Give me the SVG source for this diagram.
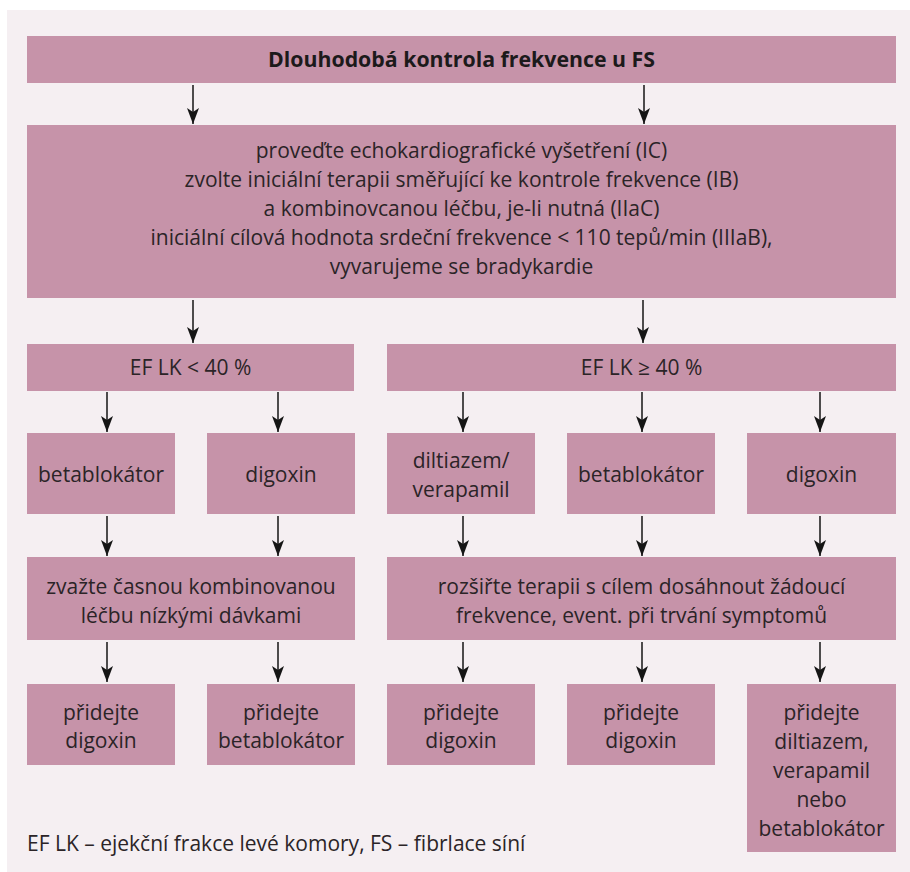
<svg xmlns="http://www.w3.org/2000/svg" width="910" height="872" viewBox="0 0 910 872">
<style>
.bx{fill:#c693a9}
.t{font-family:"Open Sans","Noto Sans",sans-serif;font-size:21px;fill:#2b2427;text-anchor:middle}
.tt{font-family:"Open Sans","Noto Sans",sans-serif;font-size:21.3px;font-weight:700;fill:#1c1a1b;text-anchor:middle}
.fn{font-family:"Open Sans","Noto Sans",sans-serif;font-size:21px;fill:#2b2427}
.ar{stroke:#151515;stroke-width:1.5;fill:none;marker-end:url(#ah)}
</style>
<defs>
<marker id="ah" viewBox="0 -6 16 12" refX="16" refY="0" markerWidth="16" markerHeight="12" markerUnits="userSpaceOnUse" orient="auto">
<path d="M0,-6 L16,0 L0,6 L4,0 Z" fill="#151515"/>
</marker>
</defs>
<rect x="0" y="0" width="910" height="872" fill="#ffffff"/>
<rect x="7" y="10" width="903" height="862" fill="#f5eff2"/>

<g id="title">
<rect class="bx" x="27" y="36" width="869" height="47"/>
<text class="tt" x="461.5" y="67">Dlouhodobá kontrola frekvence u FS</text>
</g>
<g id="initial">
<rect class="bx" x="27" y="125" width="869" height="173"/>
<text class="t" x="461.5" y="158">proveďte echokardiografické vyšetření (IC)</text>
<text class="t" x="461.5" y="187">zvolte iniciální terapii směřující ke kontrole frekvence (IB)</text>
<text class="t" x="461.5" y="216">a kombinovcanou léčbu, je-li nutná (IIaC)</text>
<text class="t" x="461.5" y="245">iniciální cílová hodnota srdeční frekvence &lt; 110 tepů/min (IIIaB),</text>
<text class="t" x="461.5" y="274">vyvarujeme se bradykardie</text>
</g>
<g id="ef-low">
<rect class="bx" x="27" y="344" width="327" height="47"/>
<text class="t" x="190.5" y="375">EF LK &lt; 40 %</text>
</g>
<g id="ef-high">
<rect class="bx" x="387" y="344" width="509" height="47"/>
<text class="t" x="641.5" y="375">EF LK ≥ 40 %</text>
</g>
<g id="l-beta">
<rect class="bx" x="27" y="433" width="148" height="81"/>
<text class="t" x="101" y="482">betablokátor</text>
</g>
<g id="l-digoxin">
<rect class="bx" x="207" y="433" width="148" height="81"/>
<text class="t" x="281" y="482">digoxin</text>
</g>
<g id="r-dilt">
<rect class="bx" x="387" y="433" width="148" height="81"/>
<text class="t" x="461" y="468">diltiazem/</text>
<text class="t" x="461" y="497">verapamil</text>
</g>
<g id="r-beta">
<rect class="bx" x="567" y="433" width="148" height="81"/>
<text class="t" x="641" y="482">betablokátor</text>
</g>
<g id="r-digoxin">
<rect class="bx" x="747" y="433" width="149" height="81"/>
<text class="t" x="821.5" y="482">digoxin</text>
</g>
<g id="l-combo">
<rect class="bx" x="27" y="557" width="328" height="83"/>
<text class="t" x="191" y="594">zvažte časnou kombinovanou</text>
<text class="t" x="191" y="623">léčbu nízkými dávkami</text>
</g>
<g id="r-extend">
<rect class="bx" x="387" y="557" width="509" height="83"/>
<text class="t" x="641.5" y="594">rozšiřte terapii s cílem dosáhnout žádoucí</text>
<text class="t" x="641.5" y="623">frekvence, event. při trvání symptomů</text>
</g>
<g id="l-add-dig">
<rect class="bx" x="27" y="684" width="148" height="81"/>
<text class="t" x="101" y="720">přidejte</text>
<text class="t" x="101" y="748">digoxin</text>
</g>
<g id="l-add-beta">
<rect class="bx" x="207" y="684" width="148" height="81"/>
<text class="t" x="281" y="720">přidejte</text>
<text class="t" x="281" y="748">betablokátor</text>
</g>
<g id="r-add-dig1">
<rect class="bx" x="387" y="684" width="148" height="81"/>
<text class="t" x="461" y="720">přidejte</text>
<text class="t" x="461" y="748">digoxin</text>
</g>
<g id="r-add-dig2">
<rect class="bx" x="567" y="684" width="148" height="81"/>
<text class="t" x="641" y="720">přidejte</text>
<text class="t" x="641" y="748">digoxin</text>
</g>
<g id="r-add-dilt">
<rect class="bx" x="747" y="684" width="149" height="168"/>
<text class="t" x="821.5" y="720">přidejte</text>
<text class="t" x="821.5" y="749">diltiazem,</text>
<text class="t" x="821.5" y="778">verapamil</text>
<text class="t" x="821.5" y="807">nebo</text>
<text class="t" x="821.5" y="836">betablokátor</text>
</g>

<g id="connectors">
<line class="ar" x1="193" y1="85" x2="193" y2="124"/>
<line class="ar" x1="644" y1="85" x2="644" y2="124"/>
<line class="ar" x1="193" y1="300" x2="193" y2="343"/>
<line class="ar" x1="643" y1="300" x2="643" y2="343"/>
<line class="ar" x1="107" y1="392" x2="107" y2="432"/>
<line class="ar" x1="278" y1="392" x2="278" y2="432"/>
<line class="ar" x1="463" y1="392" x2="463" y2="432"/>
<line class="ar" x1="642" y1="392" x2="642" y2="432"/>
<line class="ar" x1="820" y1="392" x2="820" y2="432"/>
<line class="ar" x1="107" y1="516" x2="107" y2="556"/>
<line class="ar" x1="278" y1="516" x2="278" y2="556"/>
<line class="ar" x1="463" y1="516" x2="463" y2="556"/>
<line class="ar" x1="642" y1="516" x2="642" y2="556"/>
<line class="ar" x1="820" y1="516" x2="820" y2="556"/>
<line class="ar" x1="107" y1="642" x2="107" y2="682"/>
<line class="ar" x1="278" y1="642" x2="278" y2="682"/>
<line class="ar" x1="463" y1="642" x2="463" y2="682"/>
<line class="ar" x1="642" y1="642" x2="642" y2="682"/>
<line class="ar" x1="820" y1="642" x2="820" y2="682"/>
</g>

<text class="fn" x="27" y="851">EF LK – ejekční frakce levé komory, FS – fibrlace síní</text>
</svg>
